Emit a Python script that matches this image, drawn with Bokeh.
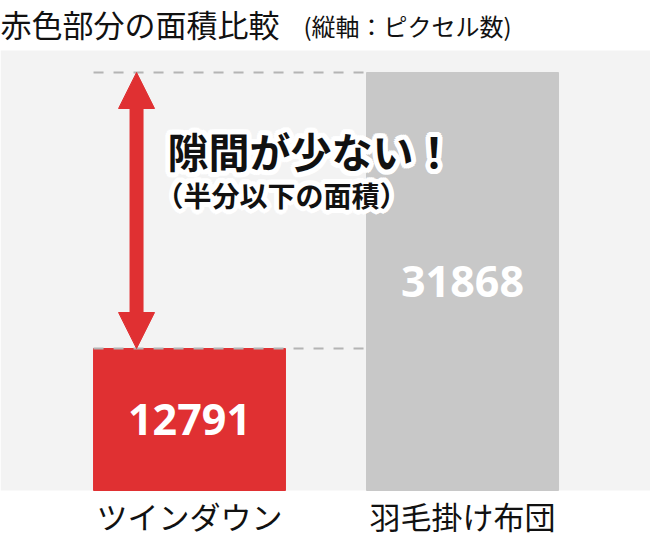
import math
from bokeh.plotting import figure
from bokeh.models import (ColumnDataSource, Range1d, Label, Arrow, NormalHead,
                          BoxAnnotation)
from bokeh.core.properties import value
from bokeh.embed import file_html
from bokeh.resources import INLINE

# ---- data ----
categories = ["ツインダウン", "羽毛掛け布団"]
pixel_counts = [12791, 31868]
bar_colors = ["#e03032", "#c8c8c8"]
title_text = "赤色部分の面積比較"
subtitle_text = "(縦軸：ピクセル数)"
callout_main = "隙間が少ない！"
callout_sub = "（半分以下の面積）"

JP = "Noto Sans CJK JP"
W, H = 650, 537
x_idx = list(range(len(categories)))
bar_w = 0.703

# vertical scale: the chart baseline is not at zero (panel bottom = y_base)
y_base, panel_top = 2976, 33389
px_per_unit = 440 / (panel_top - y_base)
y_lo = y_base - 47 / px_per_unit
y_hi = panel_top + 50 / px_per_unit

p = figure(width=W, height=H, output_backend="svg", toolbar_location=None,
           title=None, x_axis_location=None, y_axis_location=None,
           x_range=Range1d(-0.6923, 1.6886), y_range=Range1d(y_lo, y_hi),
           min_border=0)
p.background_fill_color = "white"
p.border_fill_color = "white"
p.outline_line_color = None
p.grid.visible = False

p.add_layout(BoxAnnotation(bottom=y_base, top=panel_top, fill_color="#f3f3f3",
                           fill_alpha=1, line_color=None, level="underlay"))

src = ColumnDataSource(dict(x=x_idx, top=pixel_counts, color=bar_colors,
                            mid=[(v + y_base) / 2 for v in pixel_counts],
                            txt=[str(v) for v in pixel_counts],
                            cat=categories,
                            cat_y=[y_base - 25 / px_per_unit] * len(categories)))
p.vbar(x="x", top="top", bottom=y_base, width=bar_w, color="color", source=src)

# dashed reference lines at both bar tops
left_edge = x_idx[0] - bar_w / 2
right_edge = x_idx[1] - bar_w / 2
p.segment(x0=[left_edge] * 2, x1=[right_edge] * 2, y0=pixel_counts, y1=pixel_counts,
          line_color="#b4b4b4", line_width=2, line_dash="10 10")

# value labels inside bars
p.text(x="x", y="mid", text="txt", source=src, text_color="white",
       text_font=value("Noto Sans"), text_font_style="bold", text_font_size="43px",
       text_align="center", text_baseline="middle")

# category labels under bars
p.text(x="x", y="cat_y", text="cat", source=src, text_color="#111111",
       text_font=value(JP), text_font_size="31px",
       text_align="center", text_baseline="middle")

# double arrow between the two values
ax = x_idx[0] - 0.194
p.add_layout(Arrow(x_start=ax, y_start=pixel_counts[0], x_end=ax, y_end=pixel_counts[1],
                   line_color="#e03032", line_width=14, line_cap="butt",
                   start=NormalHead(size=36, fill_color="#e03032", line_color="#e03032", line_width=1),
                   end=NormalHead(size=36, fill_color="#e03032", line_color="#e03032", line_width=1)))

# titles
p.add_layout(Label(x=0, y=H - 23, x_units="screen", y_units="screen", text=title_text,
                   text_font=JP, text_font_size="31px", text_color="#111111",
                   text_baseline="middle"))
p.add_layout(Label(x=303, y=H - 25, x_units="screen", y_units="screen", text=subtitle_text,
                   text_font=JP, text_font_size="24px", text_color="#111111",
                   text_baseline="middle"))

# callout with white halo
def halo_label(x, y, text, size):
    for r in (2.5, 5):
        for k in range(16):
            a = 2 * math.pi * k / 16
            p.add_layout(Label(x=x, y=y, x_units="screen", y_units="screen", text=text,
                               x_offset=r * math.cos(a), y_offset=r * math.sin(a),
                               text_font=JP, text_font_style="bold", text_font_size=size,
                               text_color="white", text_baseline="middle"))
    p.add_layout(Label(x=x, y=y, x_units="screen", y_units="screen", text=text,
                       text_font=JP, text_font_style="bold", text_font_size=size,
                       text_color="#111111", text_baseline="middle"))

halo_label(167, H - 149.5, callout_main, "41px")
halo_label(155, H - 194, callout_sub, "28px")

open("out.html", "w").write(file_html(p, INLINE))
